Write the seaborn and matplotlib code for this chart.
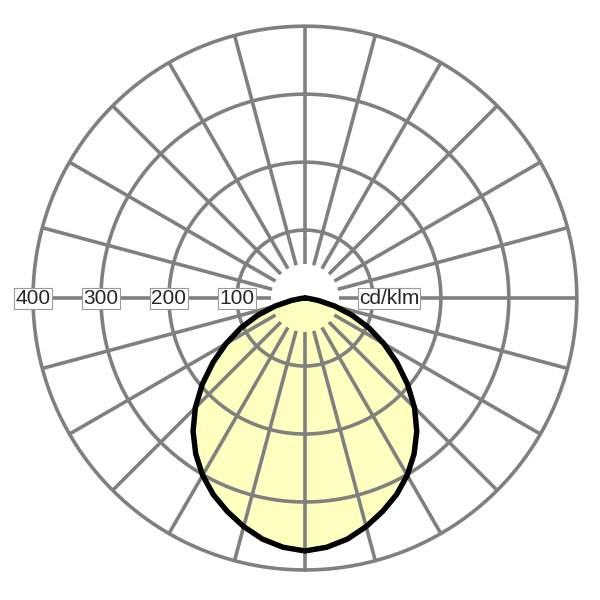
import numpy as np
import matplotlib
matplotlib.use("Agg")
import matplotlib.pyplot as plt
import seaborn as sns

# Luminous intensity distribution (cd/klm), angle from nadir in degrees.
# The curve is symmetric about the vertical axis.
gamma_deg = [0, 5, 10, 15, 20, 25, 30, 35, 40, 45, 50, 55, 60, 65, 70, 75, 80, 85, 90]
intensity = [372, 368, 360, 348, 334, 319, 301, 280, 256, 228, 197, 165, 134, 104, 74, 45, 20, 5, 0]

# grid of the diagram
ring_values = [100, 200, 300, 400]
spoke_angles = list(range(0, 360, 15))
spoke_start = 50
unit_label = "cd/klm"

grid_grey = "#808080"
fill_yellow = "#ffffc0"

sns.set_style("white")
plt.rcParams["font.family"] = ["Liberation Sans", "DejaVu Sans"]

# mirror the half curve to get the whole C0-C180 plane
full_gamma = [-g for g in reversed(gamma_deg)] + gamma_deg[1:]
full_int = list(reversed(intensity)) + intensity[1:]
theta = np.deg2rad(full_gamma)

fig = plt.figure(figsize=(6, 6), dpi=100)
# axes placed so that the centre sits at (305, 298) px and 400 cd/klm is ~273 px
ax = fig.add_axes([0.0437, 0.0387, 0.929, 0.929], projection="polar")
ax.set_theta_zero_location("S")
ax.set_ylim(0, 410)
ax.grid(False)
ax.set_xticks([])
ax.set_yticks([])
ax.spines["polar"].set_visible(False)
ax.patch.set_alpha(0)

# yellow fill under the grid
ax.fill(theta, full_int, color=fill_yellow, zorder=1, lw=0)

# circles
circle_t = np.linspace(0, 2 * np.pi, 361)
for r in ring_values:
    ax.plot(circle_t, np.full_like(circle_t, r), color=grid_grey, lw=2.6, zorder=2)

# spokes every 15 degrees, they stop short of the centre
for a in spoke_angles:
    t = np.deg2rad(a)
    ax.plot([t, t], [spoke_start, ring_values[-1]], color=grid_grey, lw=2.6,
            solid_capstyle="butt", zorder=2)

# value labels on the left horizontal axis
box = dict(boxstyle="square,pad=0.05", fc="white", ec="#9a9a9a", lw=0.8)
for r in ring_values:
    ax.text(np.deg2rad(270), r, str(r), ha="center", va="center",
            fontsize=15, bbox=box, zorder=3)
ax.text(np.deg2rad(90), 124, unit_label, ha="center", va="center",
        fontsize=15, bbox=box, zorder=3)

# the intensity curve itself
sns.lineplot(x=theta, y=full_int, ax=ax, sort=False, color="black",
             linewidth=3.9, zorder=4)

fig.savefig("out.png", dpi=100)
